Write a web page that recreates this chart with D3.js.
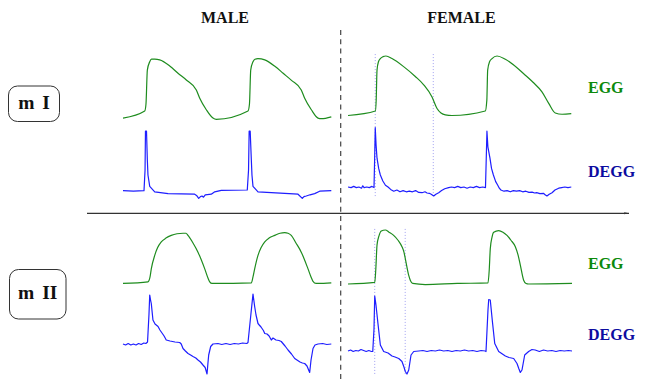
<!DOCTYPE html>
<html lang="en">
<head>
	<meta charset="utf-8">
	<title>EGG / DEGG male-female</title>
	<script type="text/javascript" src="https://cdn.jsdelivr.net/npm/d3@7"></script>
	<style type="text/css">
		body {
			margin: 0;
			background: #fff;
		}
		svg text {
			font-family: 'Liberation Serif', 'Times New Roman', serif;
			font-weight: bold;
		}
	</style>
</head>
<body>
	<div id='viz'></div>
	<script type="text/javascript">
	const WIDTH = 647;
	const HEIGHT = 379;

	// time in ms, amplitude normalised per row (EGG 0..1, DEGG 0 = baseline, 1 = spike)
	var maleEggI = [[0,0.03],[2.09,0.14],[2.21,0.25],[2.34,0.78],[2.57,0.91],[2.74,0.95],[3.05,0.95],[3.53,0.94],[4.52,0.84],[5.29,0.73],[6.06,0.63],[7.05,0.47],[7.38,0.34],[8.01,0.16],[8.65,0.03],[8.97,0.01],[12.02,0.14],[12.16,0.25],[12.28,0.78],[12.5,0.91],[12.69,0.95],[12.98,0.96],[13.63,0.94],[14.6,0.84],[15.4,0.73],[16.2,0.62],[17.14,0.47],[17.47,0.34],[18.11,0.16],[18.75,0.03],[19.07,0.02],[20.03,0.05]];
	var maleDeggI = [[0,-0.01],[1.0,-0.02],[2.02,-0.01],[2.12,0.33],[2.16,0.98],[2.26,0.98],[2.34,0.5],[2.4,0.25],[2.57,0.06],[3.05,-0.03],[4.33,-0.06],[6.89,-0.07],[7.07,-0.09],[7.28,-0.14],[7.45,-0.11],[7.6,-0.1],[7.74,-0.12],[7.91,-0.08],[8.49,-0.07],[8.82,-0.03],[9.45,-0.005],[11.95,0],[12.07,0.33],[12.13,0.98],[12.23,0.98],[12.34,0.5],[12.4,0.25],[12.5,0.06],[12.98,-0.03],[16.83,-0.07],[17.24,-0.14],[17.4,-0.11],[17.62,-0.1],[17.98,-0.08],[18.43,-0.06],[18.91,-0.02],[20.03,-0.01]];
	var maleEggII = [[0,0.01],[2.4,0.04],[2.6,0.13],[2.72,0.28],[3.05,0.53],[3.32,0.67],[3.68,0.78],[4.13,0.85],[4.64,0.9],[5.19,0.93],[5.77,0.94],[6.06,0.94],[6.25,0.9],[6.73,0.76],[7.21,0.59],[7.86,0.28],[8.17,0.11],[8.34,0.04],[8.56,0.01],[8.82,0.01],[12.34,0.02],[12.5,0.13],[12.66,0.28],[12.98,0.53],[13.27,0.67],[13.63,0.78],[14.04,0.85],[14.59,0.9],[15.1,0.94],[15.55,0.95],[15.87,0.94],[16.18,0.9],[16.63,0.76],[17.14,0.59],[17.79,0.28],[18.08,0.13],[18.27,0.05],[18.56,0.01],[18.75,0.01],[20.03,0.02]];
	var maleDeggII = [[0,0.0],[0.25,-0.02],[0.5,0.01],[0.75,-0.02],[1.0,0.0],[1.25,-0.02],[1.5,0.01],[1.75,-0.01],[2.0,0.02],[2.2,0.01],[2.36,0.04],[2.5,0.6],[2.57,0.98],[2.65,0.88],[2.72,0.81],[2.88,0.48],[3.08,0.4],[3.37,0.35],[3.55,0.28],[3.75,0.22],[3.95,0.16],[4.16,0.08],[4.52,0.06],[5.0,0.04],[5.45,0.03],[5.6,0.0],[5.77,-0.09],[6.0,-0.14],[6.25,-0.19],[6.5,-0.22],[6.73,-0.25],[7.0,-0.28],[7.21,-0.32],[7.45,-0.36],[7.69,-0.42],[7.9,-0.47],[8.08,-0.6],[8.16,-0.4],[8.24,-0.22],[8.43,-0.05],[8.65,0.0],[9.13,0.01],[9.5,-0.01],[9.9,0.01],[10.3,-0.01],[10.7,0.01],[11.1,0.0],[11.5,0.02],[11.9,0.01],[12.02,0.03],[12.3,0.6],[12.5,1.0],[12.66,0.75],[12.79,0.58],[12.98,0.41],[13.1,0.38],[13.27,0.34],[13.4,0.3],[13.5,0.27],[13.63,0.21],[13.85,0.2],[14.05,0.16],[14.26,0.08],[14.42,0.12],[14.71,0.08],[15.0,0.07],[15.22,0.05],[15.58,-0.04],[15.87,-0.12],[16.2,-0.2],[16.51,-0.29],[16.8,-0.33],[17.02,-0.36],[17.25,-0.38],[17.47,-0.39],[17.69,-0.44],[17.95,-0.57],[18.08,-0.32],[18.27,-0.09],[18.46,-0.02],[18.75,0.0],[19.2,0.01],[19.6,-0.01],[20.03,0.0]];

	var femaleEggI = [[0,0.07],[2.63,0.14],[2.71,0.31],[2.79,0.78],[2.93,0.91],[3.11,0.96],[3.37,0.99],[3.65,1.0],[4.23,0.96],[5.38,0.83],[6.47,0.68],[7.28,0.55],[8.08,0.36],[8.56,0.18],[8.94,0.11],[9.36,0.08],[10.0,0.07],[13.2,0.14],[13.35,0.31],[13.43,0.78],[13.61,0.91],[13.85,0.96],[14.33,1.0],[15.13,0.95],[17.05,0.7],[17.79,0.59],[18.65,0.44],[19.3,0.26],[19.93,0.11],[20.58,0.09],[21.47,0.1]];
	var femaleDeggI = [[0,0.05],[0.3,0.04],[0.55,0.06],[0.8,0.04],[1.05,0.05],[1.3,0.03],[1.42,0.07],[1.55,0.04],[1.8,0.05],[2.05,0.04],[2.3,0.06],[2.5,0.04],[2.56,0.5],[2.62,1.04],[2.7,0.75],[2.79,0.53],[2.95,0.36],[3.11,0.25],[3.35,0.15],[3.6,0.08],[3.85,0.05],[4.1,0.01],[4.4,-0.02],[4.7,0.0],[5.0,-0.03],[5.3,-0.01],[5.6,-0.03],[5.9,-0.02],[6.2,-0.03],[6.5,-0.01],[6.8,-0.04],[7.12,-0.045],[7.4,-0.03],[7.6,-0.05],[7.82,-0.055],[8.0,-0.07],[8.24,-0.1],[8.45,-0.07],[8.72,-0.045],[9.0,-0.01],[9.3,0.02],[9.68,0.04],[9.95,0.05],[10.25,0.04],[10.55,0.06],[10.85,0.04],[11.15,0.05],[11.45,0.03],[11.75,0.05],[12.05,0.04],[12.35,0.06],[12.65,0.04],[12.95,0.05],[13.22,0.04],[13.29,0.5],[13.36,0.98],[13.45,0.72],[13.65,0.53],[13.8,0.36],[13.98,0.25],[14.2,0.14],[14.4,0.08],[14.55,0.03],[14.7,0.0],[15.0,-0.02],[15.3,-0.01],[15.6,-0.03],[15.9,-0.01],[16.2,-0.02],[16.5,-0.01],[16.8,-0.03],[17.1,-0.02],[17.4,-0.04],[17.7,-0.035],[17.95,-0.05],[18.14,-0.045],[18.45,-0.06],[18.82,-0.055],[18.95,-0.08],[19.13,-0.1],[19.35,-0.07],[19.62,-0.045],[19.9,0.0],[20.26,0.03],[20.55,0.04],[20.85,0.05],[21.15,0.04],[21.47,0.05]];
	var femaleEggII = [[0,0],[2.57,0.03],[2.67,0.26],[2.79,0.72],[2.98,0.89],[3.2,0.98],[3.59,1.0],[3.94,0.96],[4.39,0.9],[4.81,0.81],[5.19,0.69],[5.38,0.59],[5.51,0.47],[5.84,0.16],[6.01,0.06],[6.22,0.01],[7.43,-0.01],[10.5,0.01],[13.46,0.02],[13.58,0.26],[13.68,0.65],[13.85,0.87],[14.01,0.96],[14.49,0.99],[14.9,0.96],[15.29,0.9],[15.67,0.81],[16.09,0.69],[16.35,0.54],[16.57,0.35],[16.89,0.07],[17.12,0.01],[17.37,0],[21.54,0.01]];
	var femaleDeggII = [[0,-0.14],[0.25,-0.12],[0.5,-0.15],[0.75,-0.13],[1.0,-0.14],[1.25,-0.11],[1.5,-0.13],[1.75,-0.15],[2.0,-0.13],[2.25,-0.15],[2.38,-0.15],[2.5,0.3],[2.57,0.96],[2.69,0.78],[2.88,0.41],[3.11,-0.02],[3.43,-0.15],[3.85,-0.18],[4.23,-0.24],[4.52,-0.26],[4.88,-0.29],[5.19,-0.35],[5.38,-0.46],[5.51,-0.55],[5.67,-0.6],[5.84,-0.52],[6.06,-0.22],[6.32,-0.15],[6.8,-0.14],[7.2,-0.13],[7.6,-0.15],[8.0,-0.13],[8.4,-0.14],[8.8,-0.12],[9.2,-0.14],[9.6,-0.13],[10.0,-0.15],[10.4,-0.13],[10.8,-0.14],[11.2,-0.12],[11.6,-0.14],[12.0,-0.13],[12.4,-0.15],[12.8,-0.13],[13.2,-0.14],[13.27,-0.15],[13.46,0.68],[13.53,0.89],[13.68,0.88],[13.89,0.44],[14.11,0.01],[14.49,-0.15],[15.13,-0.24],[15.48,-0.27],[15.93,-0.29],[16.25,-0.39],[16.44,-0.5],[16.57,-0.57],[16.73,-0.52],[16.99,-0.22],[17.37,-0.15],[17.69,-0.11],[18.0,-0.12],[18.4,-0.15],[18.8,-0.12],[19.2,-0.14],[19.6,-0.13],[20.0,-0.15],[20.4,-0.13],[20.8,-0.14],[21.2,-0.13],[21.54,-0.14]];

	// instants marked with dotted lines on the female traces (ms)
	var femaleMarksI = [2.62, 8.2];
	var femaleMarksII = [2.57, 5.5];

	var columnLabels = ['MALE', 'FEMALE'];
	var rowLabels = ['m I', 'm II'];
	var traceLabels = ['EGG', 'DEGG'];

	var EGG_COLOR = '#1e8c1e';
	var DEGG_COLOR = '#1e1eff';

	var svg = d3.select('#viz')
		.append('svg')
		.attr('width', WIDTH)
		.attr('height', HEIGHT);

	// scales: one per column for time, one per trace row for amplitude
	var xMale = d3.scaleLinear().domain([0, 20]).range([123, 331]);
	var xFemale = d3.scaleLinear().domain([0, 21.5]).range([348, 571.6]);

	var yEggI = d3.scaleLinear().domain([0, 1]).range([120, 56]);
	var yDeggI = d3.scaleLinear().domain([0, 1]).range([190, 130]);
	var yEggII = d3.scaleLinear().domain([0, 1]).range([284, 230]);
	var yDeggII = d3.scaleLinear().domain([0, 1]).range([344, 294]);

	// dotted marks go behind the traces
	function drawMarks(marks, yTop, yBottom) {
		svg.append('g').selectAll('line')
			.data(marks)
			.enter().append('line')
			.attr('x1', function(d) { return xFemale(d); })
			.attr('x2', function(d) { return xFemale(d); })
			.attr('y1', yTop)
			.attr('y2', yBottom)
			.attr('stroke', '#a0a0f0')
			.attr('stroke-width', 1)
			.attr('stroke-dasharray', '1,2');
	}
	drawMarks(femaleMarksI, yEggI(1.03), yDeggI(-0.12));
	drawMarks(femaleMarksII, yEggII(1.02), yDeggII(-0.6));

	function drawTrace(data, x, y, color, curve) {
		var line = d3.line()
			.x(function(d) { return x(d[0]); })
			.y(function(d) { return y(d[1]); })
			.curve(curve);
		svg.append('path')
			.datum(data)
			.attr('d', line)
			.attr('fill', 'none')
			.attr('stroke', color)
			.attr('stroke-width', 1.2)
			.attr('stroke-linejoin', 'round');
	}

	drawTrace(maleEggI, xMale, yEggI, EGG_COLOR, d3.curveMonotoneX);
	drawTrace(maleDeggI, xMale, yDeggI, DEGG_COLOR, d3.curveLinear);
	drawTrace(maleEggII, xMale, yEggII, EGG_COLOR, d3.curveMonotoneX);
	drawTrace(maleDeggII, xMale, yDeggII, DEGG_COLOR, d3.curveLinear);
	drawTrace(femaleEggI, xFemale, yEggI, EGG_COLOR, d3.curveMonotoneX);
	drawTrace(femaleDeggI, xFemale, yDeggI, DEGG_COLOR, d3.curveLinear);
	drawTrace(femaleEggII, xFemale, yEggII, EGG_COLOR, d3.curveMonotoneX);
	drawTrace(femaleDeggII, xFemale, yDeggII, DEGG_COLOR, d3.curveLinear);

	// separators
	svg.append('line')
		.attr('x1', 340.7).attr('x2', 340.7)
		.attr('y1', 30).attr('y2', HEIGHT)
		.attr('stroke', '#444')
		.attr('stroke-width', 1.2)
		.attr('stroke-dasharray', '5,4.3');

	svg.append('defs').append('marker')
		.attr('id', 'tip')
		.attr('viewBox', '0 0 10 6')
		.attr('refX', 10).attr('refY', 3)
		.attr('markerWidth', 6).attr('markerHeight', 2.4)
		.attr('orient', 'auto')
		.append('path')
		.attr('d', 'M0,1 L10,3 L0,5 Z')
		.attr('fill', '#333');

	svg.append('line')
		.attr('x1', 87).attr('x2', 629)
		.attr('y1', 213.3).attr('y2', 213.3)
		.attr('stroke', '#333')
		.attr('stroke-width', 1.2)
		.attr('marker-end', 'url(#tip)');

	// column titles
	svg.selectAll('text.col')
		.data(columnLabels)
		.enter().append('text')
		.attr('class', 'col')
		.attr('x', function(d, i) { return i == 0 ? 225 : 461.5; })
		.attr('y', 22.5)
		.attr('text-anchor', 'middle')
		.attr('font-size', '16px')
		.attr('fill', '#111')
		.text(function(d) { return d; });

	// row boxes
	var boxes = [
		{label: rowLabels[0], x: 8.5, y: 86, w: 51, h: 35.5, ty: 109},
		{label: rowLabels[1], x: 9.5, y: 269.5, w: 56.5, h: 49.5, ty: 298.5}
	];
	var box = svg.selectAll('g.box')
		.data(boxes)
		.enter().append('g')
		.attr('class', 'box');
	box.append('rect')
		.attr('x', function(d) { return d.x; })
		.attr('y', function(d) { return d.y; })
		.attr('width', function(d) { return d.w; })
		.attr('height', function(d) { return d.h; })
		.attr('rx', 9)
		.attr('fill', '#fff')
		.attr('stroke', '#333')
		.attr('stroke-width', 1);
	box.append('text')
		.attr('x', function(d) { return d.x + d.w / 2; })
		.attr('y', function(d) { return d.ty; })
		.attr('text-anchor', 'middle')
		.attr('font-size', '19.5px')
		.attr('word-spacing', '3px')
		.attr('fill', '#111')
		.text(function(d) { return d.label; });

	// trace labels on the right
	var labelRows = [
		{text: traceLabels[0], y: 93.3, color: '#0c8a0c'},
		{text: traceLabels[1], y: 177.3, color: '#0c0ca0'},
		{text: traceLabels[0], y: 269.3, color: '#0c8a0c'},
		{text: traceLabels[1], y: 340, color: '#0c0ca0'}
	];
	svg.selectAll('text.trace')
		.data(labelRows)
		.enter().append('text')
		.attr('class', 'trace')
		.attr('x', 588)
		.attr('y', function(d) { return d.y; })
		.attr('font-size', '16px')
		.attr('fill', function(d) { return d.color; })
		.text(function(d) { return d.text; });
	</script>
</body>
</html>
